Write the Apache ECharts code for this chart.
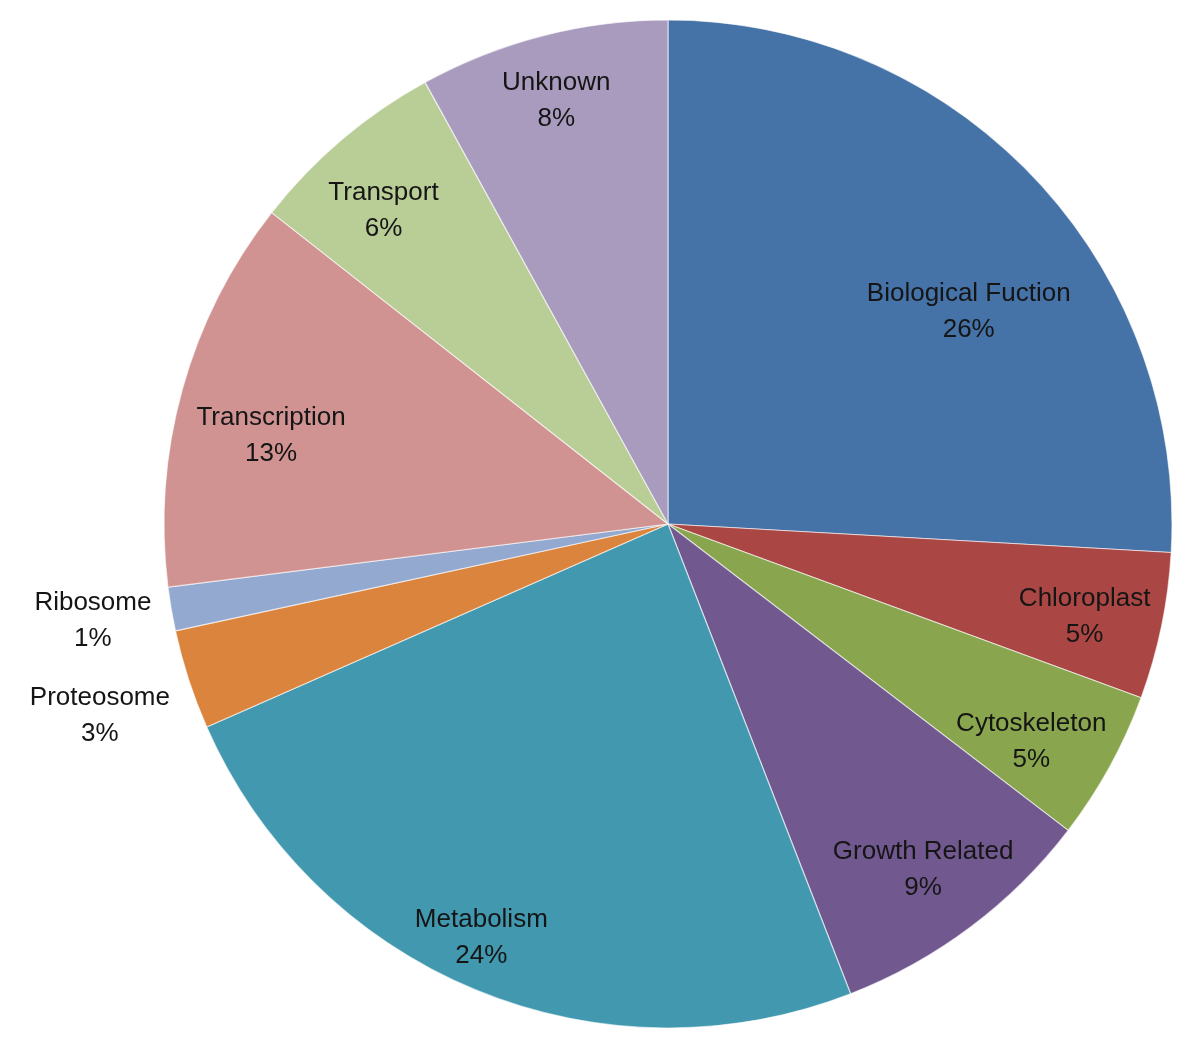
<!DOCTYPE html>
<html>
<head>
<meta charset="utf-8">
<script src="https://cdn.jsdelivr.net/npm/echarts@6/dist/echarts.min.js"></script>
<style>html,body{margin:0;padding:0;background:#fff;}#c{width:1200px;height:1041px;}</style>
</head>
<body>
<div id="c"></div>
<script>
const categories = ['Biological Fuction','Chloroplast','Cytoskeleton','Growth Related','Metabolism','Proteosome','Ribosome','Transcription','Transport','Unknown'];
const values = [25.9, 4.7, 4.8, 8.7, 24.3, 3.2, 1.4, 12.6, 6.4, 8.0];
const colors = ['#4572A7','#AA4643','#89A54E','#71588F','#4198AF','#DB843D','#93A9CF','#D19392','#B9CD96','#A99BBD'];
// label placement style: radial factor of radius and angular shift (deg)
const labelRadius = [0.73, 0.847, 0.84, 0.853, 0.90, 1.19, 1.157, 0.807, 0.84, 0.868];
const labelShift = [8.2, 0.9, 2.1, 0.5, 1.8, -0.7, 0.2, -2.9, -1.9, -0.4];

const CX = 668, CY = 524, R = 504;
const total = values.reduce((a, b) => a + b, 0);
const mids = [];
let acc = 0;
values.forEach(v => { mids.push((acc + v / 2) / total * 360); acc += v; });

const chart = echarts.init(document.getElementById('c'));
chart.setOption({
  animation: false,
  series: [{
    type: 'pie',
    center: [CX, CY],
    radius: [0, R],
    startAngle: 90,
    clockwise: true,
    data: categories.map((n, i) => ({ name: n, value: values[i], itemStyle: { color: colors[i] } })),
    itemStyle: { borderColor: 'rgba(255,255,255,0.6)', borderWidth: 1.2 },
    label: {
      show: true,
      position: 'inside',
      formatter: p => p.name + '\n' + Math.round(p.value / total * 100) + '%',
      fontFamily: 'Liberation Sans, Arial, sans-serif',
      fontSize: 26,
      lineHeight: 36,
      color: '#151515',
      align: 'center'
    },
    labelLine: { show: false },
    labelLayout: function (p) {
      const i = p.dataIndex;
      const a = (mids[i] + labelShift[i]) * Math.PI / 180;
      const r = R * labelRadius[i];
      return {
        x: CX + r * Math.sin(a),
        y: CY - r * Math.cos(a),
        align: 'center',
        verticalAlign: 'middle'
      };
    }
  }]
});
</script>
</body>
</html>
